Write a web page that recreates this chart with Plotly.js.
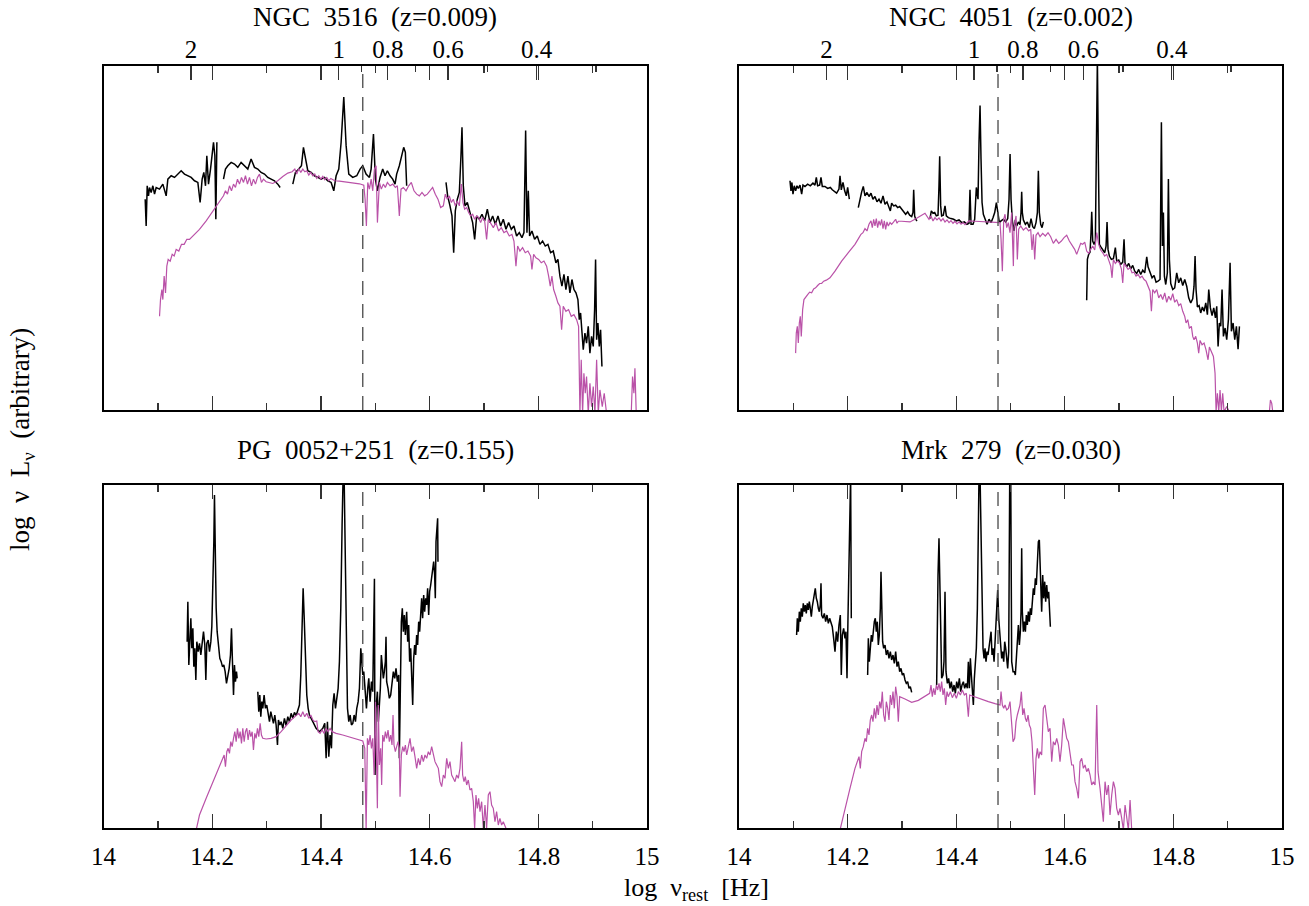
<!DOCTYPE html>
<html>
<head>
<meta charset="utf-8">
<script src="https://cdn.plot.ly/plotly-3.0.1.min.js"></script>
<style>html,body{margin:0;padding:0;background:#fff;}#plot{width:1309px;height:906px;}</style>
</head>
<body>
<div id="plot"></div>
<script>
// ---- Data: [log nu_rest, log nuLnu (arbitrary units)] ; null = gap between spectral segments
const ngc3516Obs = [[14.0767,63],[14.0785,55],[14.0804,67],[14.0828,64],[14.0847,66.5],[14.0877,65],[14.0908,67],[14.0939,64.5],[14.0969,66.5],[14.1031,66],[14.1092,67.5],[14.1153,64],[14.1184,69],[14.1245,70],[14.1307,69.5],[14.1368,70.5],[14.1429,71.5],[14.149,70.5],[14.1552,70],[14.1613,69.5],[14.1674,68.5],[14.1736,68],[14.1778,62],[14.1815,69],[14.1846,71],[14.1877,67],[14.1901,76],[14.1932,67.5],[14.1969,72],[14.2,77],[14.2024,80],[14.2049,76],[14.2067,57],[14.2086,80],null,
[14.2208,69],[14.2244,72],[14.2287,73],[14.2349,74],[14.241,73.5],[14.2471,72.5],[14.2532,74],[14.2594,73],[14.2655,72],[14.2716,75],[14.2778,72.5],[14.2839,72],[14.29,71],[14.2962,70.5],[14.3023,69.5],[14.3084,69],[14.3146,68.5],[14.3207,67.5],[14.325,66.5],null,
[14.3483,67.5],[14.3532,71],[14.3593,72],[14.3642,73],[14.3679,78.5],[14.3716,75],[14.3759,71.5],[14.382,71],[14.3881,70],[14.3943,69.5],[14.4004,69],[14.4065,69.5],[14.4127,68.5],[14.4188,68],[14.4237,65.5],[14.428,70],[14.4329,72],[14.4372,80],[14.4421,93.5],[14.4464,79],[14.4513,70.5],[14.4586,69.5],[14.466,70],[14.4721,72],[14.477,73],[14.4831,70.5],[14.4893,69.5],[14.4924,72],[14.4967,82.5],[14.5003,69],[14.5014,68],[14.5039,65.5],[14.5088,69.5],[14.5137,72],[14.518,70],[14.5223,71.5],[14.5272,70],[14.5321,69],[14.5364,67.5],[14.5394,70.5],[14.5443,73],[14.5486,76],[14.5523,78.5],[14.5554,77],[14.5578,67],null,
[14.6302,68],[14.6332,64],[14.6375,61],[14.6412,58],[14.6443,47],[14.6473,59.5],[14.651,63],[14.6547,65],[14.6577,76],[14.6596,84.5],[14.662,67],[14.6651,61],[14.6694,62],[14.6743,59],[14.6792,56],[14.6829,51],[14.6866,58],[14.6915,57],[14.6964,58.5],[14.7013,56.5],[14.7062,60],[14.7111,56],[14.716,58],[14.7209,55.5],[14.7258,58],[14.7307,55],[14.7356,57],[14.7405,54],[14.7454,56],[14.7503,54],[14.7552,55],[14.7601,52],[14.765,53],[14.7699,51.5],[14.7736,53],[14.7767,83.5],[14.7791,53],[14.7816,65.5],[14.784,52],[14.7883,53.5],[14.7932,51],[14.7981,52],[14.803,49.5],[14.8079,50.5],[14.8128,49],[14.8177,49.5],[14.8226,47],[14.8275,47.5],[14.8324,44],[14.8361,45],[14.8398,40],[14.8435,37],[14.8472,40.5],[14.8508,36],[14.8545,40],[14.8582,35],[14.8619,39],[14.8656,36],[14.8693,35],[14.8729,33],[14.8754,27],[14.8778,29],[14.8803,23],[14.8827,18],[14.8858,23],[14.8888,20],[14.8919,25],[14.895,17],[14.898,22],[14.9011,19],[14.9036,30],[14.9054,45],[14.9073,21],[14.9097,26],[14.9122,19],[14.9146,24],[14.9171,13]];

const ngc3516Gal = [[14.1031,28],[14.1049,33],[14.1074,36],[14.1092,33],[14.1116,40],[14.1141,35],[14.1165,43],[14.119,45],[14.1227,44.5],[14.1264,46.5],[14.13,46],[14.1337,48],[14.1386,47.5],[14.1435,49.5],[14.1484,49.5],[14.1533,51],[14.1582,51],[14.1644,52],[14.1766,54],[14.1889,56.5],[14.2012,59.5],[14.2134,62.5],[14.2208,64],[14.2244,65.5],[14.2281,64.5],[14.2318,67],[14.2355,65.5],[14.2392,67.5],[14.2428,66.5],[14.2465,69],[14.2502,67.5],[14.2539,69.5],[14.2576,68],[14.2612,70],[14.2649,67.5],[14.2686,69.5],[14.2723,67],[14.2759,69],[14.2796,67.5],[14.2833,69.5],[14.287,70.5],[14.2906,68],[14.2943,69],[14.2992,68.2],[14.3054,68],[14.3115,67.7],[14.3207,68.5],[14.3299,69.8],[14.3391,70.8],[14.3471,71.2],[14.352,72],[14.3556,70.5],[14.3593,72.2],[14.363,71],[14.3667,72],[14.3704,71.2],[14.374,71.5],[14.3777,70.2],[14.3814,71],[14.3851,70],[14.3887,70.5],[14.3924,69.2],[14.3961,70],[14.3998,69],[14.4035,69.8],[14.4071,68.8],[14.4108,69.5],[14.4145,68.5],[14.4182,69.2],[14.4218,68.8],[14.4255,68.5],[14.4341,68.4],[14.4464,68.2],[14.4586,67.9],[14.4709,67.6],[14.4789,67.2],[14.4813,63],[14.4837,55],[14.4862,68],[14.4893,66],[14.4924,69],[14.4954,65.5],[14.4985,72],[14.5016,73],[14.504,56],[14.5076,68],[14.5112,66],[14.5149,67.5],[14.5186,66.5],[14.5223,68],[14.5272,67],[14.5321,67.5],[14.537,66.5],[14.5407,67],[14.5443,58],[14.5474,66],[14.5517,66.5],[14.5566,65.5],[14.5615,67],[14.5664,68],[14.5713,65.5],[14.5762,64.5],[14.5811,64],[14.586,65],[14.5909,64],[14.5958,64.5],[14.6007,65.5],[14.6056,66.5],[14.6105,64.5],[14.6154,63],[14.6203,60.5],[14.6253,61],[14.6289,64.5],[14.6326,63],[14.6363,64],[14.64,62],[14.6436,63],[14.6473,61],[14.651,62.5],[14.6547,61],[14.6584,67.5],[14.6614,62],[14.6645,60],[14.6682,60.5],[14.6718,59],[14.6755,58],[14.6792,58.5],[14.6829,57],[14.6866,58],[14.6902,57.5],[14.6939,56],[14.6976,57.5],[14.7013,56.5],[14.7049,51],[14.708,57],[14.7123,56],[14.7172,54.5],[14.722,56],[14.727,53.5],[14.7319,54.5],[14.7368,53],[14.7417,53.5],[14.7466,52],[14.7515,52.5],[14.7552,50.5],[14.7589,43],[14.762,49],[14.7662,47.5],[14.7711,48.5],[14.776,47],[14.7809,47.5],[14.7859,46],[14.7883,42],[14.7914,46.5],[14.7957,45.5],[14.8006,45],[14.8055,44],[14.8104,44.5],[14.8153,43],[14.819,40],[14.822,37],[14.8251,40],[14.8282,36],[14.8324,34],[14.8361,32],[14.8398,31],[14.8429,24],[14.8459,31],[14.8508,29.5],[14.8557,30],[14.8606,28],[14.8656,28.5],[14.8705,27],[14.8741,25],[14.8766,-1],[14.879,15],[14.8815,-1],[14.8839,11],[14.8864,5],[14.8888,10],[14.8919,-1],[14.895,8],[14.898,1],[14.9011,7],[14.9042,-1],[14.9073,15],[14.9103,-1],[14.9134,6],[14.9177,1],[14.9213,5],[14.9256,-1],null,[14.971,-1],[14.9734,10],[14.9759,5],[14.9778,12.5],[14.9802,-1]];

const ngc4051Obs = [[14.0939,68.5],[14.0957,65.5],[14.0975,68],[14.0994,64.5],[14.1018,67],[14.1043,65.5],[14.1068,67],[14.1092,66.2],[14.1123,67.2],[14.1154,64.5],[14.1178,67.2],[14.1215,66.8],[14.1264,67.5],[14.1313,67],[14.1362,67.8],[14.1399,67.2],[14.1424,69.5],[14.1448,67],[14.1485,67.2],[14.151,69.5],[14.1534,66.8],[14.1583,66.8],[14.1632,66.2],[14.1682,66.5],[14.1718,65.8],[14.1755,65.2],[14.1798,64.8],[14.1841,66],[14.186,70],[14.1884,65.8],[14.1915,68],[14.1946,65.5],[14.1976,64],[14.2001,66.5],[14.2032,63],null,
[14.2197,60.5],[14.2228,63.5],[14.2259,65.2],[14.2289,66.8],[14.232,64],[14.2357,65],[14.2394,63.8],[14.2431,64.8],[14.2467,63],[14.2504,63.8],[14.2541,62.2],[14.2578,63],[14.2615,61.8],[14.2652,64],[14.2689,61.5],[14.2725,62.2],[14.2762,60.5],[14.2787,59.5],[14.2811,61.8],[14.2848,61],[14.2885,61.2],[14.2922,60.5],[14.2959,60.8],[14.2996,60],[14.3032,59.5],[14.3069,58.5],[14.3106,59.2],[14.3143,58.2],[14.318,57.8],[14.3204,59],[14.3217,65.8],[14.3235,58],[14.3253,57],[14.3278,56.5],null,
[14.3517,57.2],[14.3542,59.5],[14.3573,58.8],[14.3604,59],[14.3634,58],[14.3665,58.2],[14.3683,67],[14.3696,75.8],[14.3714,61],[14.3732,58],[14.3763,58.2],[14.3794,61],[14.3818,58],[14.3855,57.5],[14.3904,57.2],[14.3953,57],[14.4002,56.5],[14.4052,56.8],[14.4101,56],[14.415,56.2],[14.4199,55.5],[14.4236,55.8],[14.4254,65.8],[14.4273,55.5],[14.431,55.5],[14.434,57],[14.4371,66.5],[14.4402,63],[14.442,80],[14.4439,91],[14.4457,75],[14.4476,62],[14.45,58.5],[14.4531,57],[14.4568,55.5],[14.4605,57],[14.4642,56],[14.4679,57.5],[14.4709,59],[14.474,62],[14.4765,59],[14.4795,56],[14.4826,56.5],[14.4869,57],[14.4912,56.2],[14.4949,57.2],[14.4973,63],[14.4992,76.5],[14.501,63],[14.5034,56.5],[14.5065,53.5],[14.5089,56.8],[14.5114,55],[14.5145,56.2],[14.5175,55.4],[14.5194,59],[14.5206,65.2],[14.5218,59],[14.5237,56.8],[14.5274,55.5],[14.531,56.2],[14.5347,54.5],[14.5378,57.2],[14.5409,54.8],[14.5439,54.2],[14.547,56],[14.5495,59],[14.5513,71.5],[14.5531,59],[14.5556,55.5],[14.5581,54.5],[14.5605,56.2],null,
[14.6403,32.8],[14.6416,45],[14.644,46.5],[14.6465,47.2],[14.6483,53],[14.6496,59.2],[14.6514,50.5],[14.6539,49.5],[14.6563,50.5],[14.6581,89],[14.66,105],[14.6618,75],[14.6637,49.5],[14.6661,48.8],[14.6698,48],[14.6735,47],[14.676,49],[14.6778,56.2],[14.6796,48],[14.6821,46],[14.6858,45],[14.6895,45.2],[14.6931,48.5],[14.6956,44.5],[14.6993,44.8],[14.703,43.5],[14.7067,44.2],[14.7091,51],[14.7109,43.8],[14.714,42.8],[14.7177,43.8],[14.7214,42.2],[14.7251,43.2],[14.7288,41.5],[14.7324,40.8],[14.7361,42],[14.7398,40.5],[14.7435,41.8],[14.7472,41],[14.7509,45.8],[14.7533,42.8],[14.757,41],[14.7607,39.5],[14.7644,40.2],[14.7681,38.2],[14.7717,38.5],[14.7754,39],[14.7779,86],[14.7797,49],[14.7816,59],[14.7834,40],[14.7859,37.5],[14.7889,41],[14.7908,69],[14.7926,45],[14.7951,37.8],[14.7988,36],[14.8024,36.5],[14.8061,41],[14.8098,38],[14.8135,39.5],[14.8172,37.2],[14.8209,39],[14.8245,37],[14.8282,33.5],[14.8319,32],[14.8356,33.2],[14.838,37],[14.8399,46],[14.8417,36],[14.8442,30.8],[14.8473,31.2],[14.8503,29],[14.8534,30.8],[14.8565,29.5],[14.8596,32],[14.8626,28.5],[14.8651,36],[14.8681,30.5],[14.8712,28.2],[14.8743,30.5],[14.8774,27.5],[14.8798,31],[14.8823,19],[14.8847,26],[14.8872,25],[14.8896,36],[14.8921,22],[14.8952,24.5],[14.8982,21],[14.9013,27],[14.9044,44],[14.9068,23.5],[14.9099,26],[14.913,21],[14.916,25],[14.9191,18.2],[14.9216,25]];

const ngc4051Gal = [[14.1043,17],[14.1055,23],[14.1074,25],[14.1092,20],[14.1111,26],[14.1129,28],[14.1147,22],[14.1172,30],[14.1196,33],[14.1227,33.8],[14.1264,34.5],[14.1301,35.2],[14.1338,35],[14.1375,36.2],[14.1411,36.5],[14.1448,37.2],[14.1485,37.8],[14.1522,37.8],[14.1559,38.5],[14.1608,38.8],[14.1675,39.5],[14.1768,41.5],[14.189,44.5],[14.2013,47],[14.2136,49.5],[14.221,51.5],[14.2246,52.5],[14.2283,53],[14.232,54.2],[14.2357,53.5],[14.2394,55.5],[14.2431,56.5],[14.2455,54.5],[14.248,57],[14.2504,55],[14.2529,57.2],[14.2553,54.5],[14.2578,56.5],[14.2603,55.2],[14.2627,57],[14.2652,54.2],[14.2676,56.5],[14.2701,54],[14.2725,56.2],[14.275,55],[14.2781,56],[14.2811,55.5],[14.2848,56.2],[14.2885,57],[14.291,55.8],[14.2934,56.4],[14.2996,56.4],[14.3069,56.2],[14.3149,56.2],[14.3241,57],[14.3333,58],[14.3425,58.8],[14.3499,57],[14.3536,58],[14.3573,56.5],[14.361,57.5],[14.3646,56.8],[14.3683,57.4],[14.372,56.5],[14.3757,57.2],[14.3794,56.2],[14.3831,56.8],[14.3868,56],[14.3904,56.6],[14.3941,55.8],[14.3978,56.4],[14.4015,55.6],[14.4052,56.2],[14.4089,55.5],[14.4125,56],[14.4162,55.4],[14.4199,56],[14.4236,56.5],[14.4346,56.4],[14.4469,56.3],[14.4592,56.2],[14.4715,56.1],[14.4807,56],[14.4826,51],[14.485,41.5],[14.4875,57],[14.4899,58.5],[14.493,54.5],[14.496,56],[14.4991,53],[14.5022,59],[14.5053,43],[14.5065,54.5],[14.5102,58],[14.5126,45],[14.5151,54],[14.5188,55],[14.5237,53.8],[14.5286,54.5],[14.5335,53.5],[14.5372,54],[14.5396,47.8],[14.5421,52.5],[14.5446,45],[14.547,52.2],[14.5507,53],[14.5544,51.8],[14.5593,52.8],[14.5642,52],[14.5691,53],[14.574,51.8],[14.5789,49.8],[14.5839,51],[14.5888,49.8],[14.5937,50.5],[14.5986,51.5],[14.6035,52.2],[14.6084,50.5],[14.6133,49.2],[14.6182,48],[14.6219,46.5],[14.6256,48],[14.6293,49.8],[14.633,49.5],[14.6367,50.2],[14.6403,47.5],[14.644,46.8],[14.6477,48],[14.6514,49],[14.6551,47.8],[14.6588,53],[14.6624,49.5],[14.6661,47.8],[14.6698,47],[14.6735,46],[14.6772,46.5],[14.6809,44.5],[14.6846,43],[14.687,39.5],[14.6895,45],[14.6931,43.8],[14.6968,44.5],[14.7005,44],[14.7042,42.2],[14.7067,38],[14.7091,43.8],[14.7128,43],[14.7165,42],[14.7202,42.5],[14.7238,41],[14.7275,41.2],[14.7312,40],[14.7349,40.5],[14.7386,39.5],[14.7423,40],[14.746,39],[14.7496,38.5],[14.7533,37.2],[14.757,35.5],[14.7595,29.5],[14.7619,36],[14.7656,35],[14.7693,36],[14.773,33.5],[14.7767,34.5],[14.7803,33],[14.784,35],[14.7877,32.2],[14.7914,34],[14.7951,32.8],[14.7988,34.8],[14.8024,32.2],[14.8061,33],[14.8098,31.2],[14.8135,31.8],[14.8172,29.5],[14.8209,28],[14.8233,26],[14.8264,27],[14.8294,24.5],[14.8331,25],[14.8356,22],[14.838,21],[14.8411,22],[14.8442,20],[14.8466,17],[14.8491,20.8],[14.8528,19.5],[14.8565,20],[14.8601,18],[14.8638,15],[14.8663,18.8],[14.87,17.5],[14.8737,16],[14.8767,11],[14.8786,-0.5],[14.881,5],[14.8835,-0.5],[14.8859,6],[14.8884,-0.5],[14.8908,5],[14.8933,-0.5],[14.8982,1],[14.9031,-0.5],null,[14.9768,-0.5],[14.9787,3],[14.9811,2],[14.9829,-0.5]];

const pg0052Obs = [[14.1539,55.9],[14.1552,67.9],[14.157,48.9],[14.1588,58.9],[14.1607,62.9],[14.1625,53.9],[14.1644,59.9],[14.1662,48.4],[14.168,53.9],[14.1699,44.4],[14.1717,55.9],[14.1742,52.9],[14.1766,55.4],[14.1791,51.9],[14.1815,54.9],[14.184,58.9],[14.1864,54.9],[14.1883,44.4],[14.1901,55.4],[14.1926,56.4],[14.195,52.9],[14.1975,55.9],[14.1993,60.4],[14.2011,69.9],[14.203,85.9],[14.2042,99.9],[14.2054,85.9],[14.2073,65.9],[14.2091,58.9],[14.2116,53.9],[14.214,50.9],[14.2165,49.9],[14.2189,48.4],[14.2214,48.9],[14.2238,46.9],[14.2263,43.4],[14.2287,45.9],[14.2312,47.9],[14.2336,51.9],[14.2355,59.9],[14.2373,49.9],[14.2392,39.9],[14.241,48.9],[14.2428,43.9],[14.2447,46.9],[14.2459,44.9],null,
[14.2839,40.9],[14.2857,34.9],[14.2876,39.9],[14.2894,33.4],[14.2913,37.9],[14.2931,35.9],[14.2955,39.9],[14.298,35.9],[14.3004,36.9],[14.3029,34.4],[14.3054,31.9],[14.3078,34.9],[14.3103,32.4],[14.3127,31.4],[14.3152,33.9],[14.3176,30.9],[14.3201,24.9],[14.3219,32.4],[14.3244,30.9],[14.3268,31.9],[14.3299,29.9],[14.3329,32.9],[14.336,30.7],[14.3391,33.4],[14.3421,31.9],[14.3452,34.4],[14.3483,32.9],[14.3513,34.7],[14.3544,33.7],[14.3575,35.4],[14.3605,36.9],[14.363,45.9],[14.3654,63.9],[14.3673,71.9],[14.3691,63.9],[14.3716,49.9],[14.374,39.9],[14.3765,35.9],[14.3789,33.9],[14.3851,31.9],[14.3912,29.9],[14.3973,28.9],[14.4035,29.9],[14.4071,31.4],[14.4096,20.9],[14.412,31.9],[14.4145,21.4],[14.4169,27.9],[14.4194,23.9],[14.4219,36.9],[14.4243,40.4],[14.4268,35.9],[14.4292,39.9],[14.4317,41.9],[14.4341,49.9],[14.4366,65.9],[14.439,90.9],[14.4409,106],[14.4427,106],[14.4446,80.9],[14.4464,50.9],[14.4489,35.9],[14.4513,31.9],[14.4538,33.9],[14.4562,30.9],[14.4587,31.4],[14.4611,33.9],[14.4636,31.9],[14.466,35.9],[14.4685,37.9],[14.4709,41.9],[14.4734,53.9],[14.4752,49.9],[14.4771,45.9],[14.4789,46.9],[14.4813,40.9],[14.4838,35.9],[14.4862,41.9],[14.4881,44.9],[14.4905,37.9],[14.493,43.9],[14.4954,40.9],[14.4973,57.9],[14.4985,74.8],[14.4996,15.9],[14.5014,35.9],[14.5039,40.9],[14.5057,31.9],[14.5076,36.9],[14.5094,41.9],[14.5112,51.9],[14.5131,47.9],[14.5149,44.9],[14.5167,46.9],[14.5186,49.9],[14.5198,57.4],[14.521,43.9],[14.5235,41.9],[14.5259,38.9],[14.5284,39.9],[14.5308,43.9],[14.5333,46.9],[14.5358,44.9],[14.5382,47.9],[14.5407,43.9],[14.5431,45.9],[14.5443,20.9],[14.5462,48.9],[14.548,61.9],[14.5498,65.9],[14.5517,58.9],[14.5535,63.9],[14.5554,57.9],[14.5578,64.9],[14.5597,55.9],[14.5615,60.9],[14.5633,49.9],[14.5652,53.9],[14.567,46.9],[14.5689,36.9],[14.5707,50.9],[14.5725,54.9],[14.5744,51.9],[14.5762,57.9],[14.578,54.9],[14.5799,61.9],[14.5817,58.9],[14.5836,63.9],[14.5854,68.9],[14.5872,62.9],[14.5891,69.9],[14.5909,64.9],[14.5928,68.9],[14.5946,66.9],[14.5964,71.9],[14.5983,63.9],[14.6001,70.9],[14.602,72.9],[14.6038,75.9],[14.6056,76.9],[14.6075,79.9],[14.6093,75.9],[14.6105,68.9],[14.6118,85.9],[14.6136,91.9],[14.6148,92.9],[14.6154,79.9]];

const pg0052Gal = [[14.1705,-0.6],[14.1766,3.9],[14.1889,8.9],[14.2011,13.9],[14.2134,18.9],[14.222,21.9],[14.2244,18.4],[14.2269,22.9],[14.2293,23.9],[14.2318,22.4],[14.2342,25.9],[14.2367,24.4],[14.2392,26.9],[14.2416,28.9],[14.2441,25.9],[14.2465,29.9],[14.249,26.9],[14.2514,28.9],[14.2539,25.4],[14.2563,29.9],[14.2588,25.9],[14.2612,28.9],[14.2637,29.9],[14.2661,26.4],[14.2686,29.4],[14.271,27.4],[14.2735,28.9],[14.2759,23.4],[14.2784,28.4],[14.2808,26.9],[14.2833,29.9],[14.2857,27.4],[14.2882,31.4],[14.2906,27.9],[14.2931,26.9],[14.2992,26.7],[14.3084,26.9],[14.3176,27.4],[14.3268,28.9],[14.336,30.7],[14.3452,32.4],[14.3544,33.7],[14.3593,34.4],[14.363,33.4],[14.3667,34.9],[14.3703,33.4],[14.374,34.4],[14.3777,32.9],[14.3814,33.9],[14.3851,32.4],[14.3887,31.9],[14.3924,32.1],[14.3948,28.9],[14.3985,28.4],[14.4022,29.4],[14.4059,28.4],[14.4096,29.9],[14.4132,28.9],[14.4169,29.9],[14.4206,28.9],[14.428,28.4],[14.4402,27.9],[14.4525,27.3],[14.4648,26.7],[14.4771,26.1],[14.4807,23.9],[14.4832,-0.6],[14.4856,26.9],[14.4881,24.9],[14.4905,27.9],[14.493,23.9],[14.4954,26.9],[14.4979,15.9],[14.5004,37.9],[14.5039,5.9],[14.5057,36.9],[14.5076,18.9],[14.51,23.9],[14.5118,12.9],[14.5137,27.9],[14.5161,25.9],[14.5186,28.9],[14.521,26.9],[14.5235,29.4],[14.5259,25.9],[14.5284,27.9],[14.5308,24.9],[14.5327,33.9],[14.5345,24.9],[14.537,22.9],[14.5394,24.9],[14.5419,25.9],[14.5443,23.9],[14.5456,9.4],[14.548,21.9],[14.5505,24.4],[14.5529,22.9],[14.5554,24.9],[14.5578,21.9],[14.5609,24.4],[14.564,26.9],[14.567,22.9],[14.5701,24.4],[14.5731,21.4],[14.5762,17.9],[14.5793,20.9],[14.5823,18.9],[14.5854,21.9],[14.5885,19.9],[14.5915,21.9],[14.5946,20.9],[14.5977,22.9],[14.6007,21.9],[14.6038,24.4],[14.6069,21.9],[14.6099,19.9],[14.613,18.9],[14.6161,17.9],[14.6191,13.9],[14.6222,12.4],[14.6253,15.9],[14.6283,14.9],[14.6314,20.9],[14.6345,17.9],[14.6375,19.9],[14.6406,15.9],[14.6436,14.9],[14.6467,13.9],[14.6498,15.9],[14.6528,14.9],[14.6559,17.9],[14.659,25.9],[14.6608,15.9],[14.6633,13.9],[14.6657,15.4],[14.6682,12.9],[14.6712,14.4],[14.6743,11.4],[14.6774,11.9],[14.6804,7.9],[14.6829,-0.1],[14.6853,9.9],[14.6878,5.9],[14.6902,8.9],[14.6927,4.9],[14.6958,7.9],[14.6988,-0.1],[14.7019,6.9],[14.7049,-0.1],[14.708,9.9],[14.7111,10.9],[14.7141,6.9],[14.7172,5.9],[14.7203,1.9],[14.7233,4.9],[14.7264,0.9],[14.7294,2.9],[14.7325,0.9],[14.7356,1.9],[14.7405,-0.1]];

const mrk279Obs = [[14.1061,57.9],[14.1074,62.9],[14.1092,58.9],[14.1111,64.9],[14.1129,61.9],[14.1147,65.9],[14.1166,63.4],[14.1184,67.4],[14.1203,64.9],[14.1221,66.9],[14.1239,64.4],[14.1258,67.4],[14.1276,65.4],[14.1295,67.9],[14.1313,65.9],[14.1332,63.4],[14.135,66.4],[14.1368,67.9],[14.1387,69.9],[14.1405,71.9],[14.1424,68.9],[14.1442,67.9],[14.1461,65.9],[14.1479,64.9],[14.1497,66.9],[14.151,73.4],[14.1522,63.9],[14.1546,62.9],[14.1571,64.4],[14.1596,61.9],[14.162,63.9],[14.1645,61.4],[14.1669,62.9],[14.1694,61.9],[14.1718,60.4],[14.1743,56.9],[14.1768,52.9],[14.1792,58.9],[14.1817,55.9],[14.1841,60.9],[14.1866,63.9],[14.1884,45.9],[14.1903,57.9],[14.1927,59.9],[14.1952,56.9],[14.197,58.9],[14.1989,44.9],[14.2007,62.9],[14.2025,85.9],[14.2044,106],[14.2056,106],[14.2068,62.9],null,
[14.2369,45.9],[14.2382,56.9],[14.24,49.9],[14.2418,53.9],[14.2437,57.9],[14.2455,55.9],[14.2474,59.9],[14.2492,61.9],[14.251,62.9],[14.2529,58.9],[14.2547,61.9],[14.2566,54.9],[14.2584,57.9],[14.2603,65.9],[14.2615,76.9],[14.2627,63.9],[14.2645,55.9],[14.2664,53.9],[14.2689,54.9],[14.2713,51.9],[14.2738,53.4],[14.2762,50.9],[14.2787,52.9],[14.2811,50.4],[14.2836,51.9],[14.286,49.4],[14.2885,52.9],[14.291,48.4],[14.2934,49.9],[14.2959,46.9],[14.2983,47.9],[14.3008,45.9],[14.3032,46.4],[14.3057,44.4],[14.3081,43.4],[14.3106,43.9],[14.3131,41.9],[14.3155,42.4],[14.318,40.7],null,
[14.364,42.9],[14.3652,60.9],[14.3665,75.9],[14.3683,86.9],[14.3695,79.9],[14.3714,60.9],[14.3732,44.9],[14.3757,45.9],[14.3775,49.9],[14.3794,70.9],[14.3812,46.9],[14.3837,43.4],[14.3861,44.9],[14.3886,41.9],[14.391,43.9],[14.3935,40.9],[14.396,42.9],[14.3984,40.4],[14.4009,43.9],[14.4033,41.9],[14.4058,44.9],[14.4083,40.9],[14.4107,42.9],[14.4132,43.9],[14.4156,41.9],[14.4181,43.4],[14.4205,41.9],[14.4224,49.9],[14.4242,41.9],[14.4261,50.9],[14.4279,45.9],[14.4297,39.9],[14.4316,36.9],[14.4334,44.9],[14.4353,49.9],[14.4371,53.9],[14.439,65.9],[14.4408,90.9],[14.442,106],[14.4439,106],[14.4457,85.9],[14.4476,60.9],[14.4494,53.9],[14.4513,50.9],[14.4531,53.9],[14.4549,49.9],[14.4568,52.9],[14.4586,51.9],[14.4605,54.9],[14.4623,56.9],[14.4642,58.9],[14.466,51.9],[14.4679,53.9],[14.4697,49.9],[14.4715,55.9],[14.4734,61.9],[14.4752,67.9],[14.4764,71.4],[14.4783,62.9],[14.4801,56.9],[14.4819,54.9],[14.4838,50.9],[14.4856,52.9],[14.4875,49.9],[14.4893,55.9],[14.4912,53.9],[14.493,49.9],[14.4948,47.9],[14.4967,52.9],[14.4986,106],[14.5004,106],[14.5022,49.9],[14.5047,46.9],[14.5071,46.9],[14.5089,45.9],[14.5108,51.9],[14.5126,55.9],[14.5145,60.9],[14.5163,54.9],[14.5181,58.9],[14.5194,64.9],[14.5206,83.9],[14.5218,64.9],[14.5237,58.9],[14.5255,61.9],[14.5274,58.9],[14.5292,63.9],[14.531,60.9],[14.5329,64.9],[14.5347,61.9],[14.5366,65.9],[14.5384,63.9],[14.5403,67.9],[14.5421,71.9],[14.5439,69.9],[14.5458,74.9],[14.5476,72.9],[14.5495,80.9],[14.5513,85.9],[14.5531,86.4],[14.5544,79.9],[14.5562,71.9],[14.5574,64.9],[14.5593,75.9],[14.5611,68.9],[14.563,73.9],[14.5648,67.9],[14.5667,72.9],[14.5685,68.9],[14.5703,70.9],[14.5722,63.9],[14.5734,60.4]];

const mrk279Gal = [[14.186,-0.6],[14.1952,5.9],[14.2044,11.9],[14.2136,17.9],[14.221,21.4],[14.2234,17.9],[14.2259,22.9],[14.2289,24.4],[14.232,26.9],[14.2345,25.9],[14.2369,29.9],[14.2394,27.9],[14.2418,32.4],[14.2443,33.9],[14.2467,31.9],[14.2492,35.9],[14.2517,32.9],[14.2541,36.9],[14.2566,33.9],[14.259,37.9],[14.2615,35.9],[14.2639,40.9],[14.2664,33.9],[14.2689,31.9],[14.2713,37.9],[14.2738,35.9],[14.2762,32.4],[14.2787,39.9],[14.2811,36.9],[14.2836,40.9],[14.286,35.9],[14.2885,42.4],[14.291,39.4],[14.2934,31.9],[14.2959,39.4],[14.3057,38.7],[14.318,37.7],[14.3303,38.3],[14.3425,39.4],[14.3511,40.4],[14.3536,42.9],[14.356,39.4],[14.3585,41.9],[14.361,39.9],[14.3634,42.9],[14.3659,41.4],[14.3683,43.4],[14.3708,40.9],[14.3732,43.9],[14.3757,39.9],[14.3782,41.9],[14.3806,36.9],[14.3831,40.9],[14.3855,39.4],[14.3892,40.9],[14.3929,39.1],[14.3966,40.4],[14.4003,38.9],[14.404,40.9],[14.4076,39.9],[14.4113,41.4],[14.415,39.9],[14.4187,40.4],[14.4224,33.4],[14.4248,39.9],[14.4346,39.3],[14.4469,38.7],[14.4592,37.9],[14.4715,37.3],[14.4807,36.9],[14.4826,40.9],[14.485,36.9],[14.4875,35.9],[14.4899,36.9],[14.493,35.4],[14.496,35.9],[14.4991,37.9],[14.5022,29.9],[14.5047,25.9],[14.5077,26.9],[14.5102,31.9],[14.5126,33.9],[14.5151,35.9],[14.5175,36.9],[14.52,40.9],[14.5225,33.9],[14.5249,35.9],[14.5274,32.9],[14.5298,31.9],[14.5323,33.9],[14.5347,30.9],[14.5372,29.9],[14.5396,25.9],[14.5421,16.9],[14.5446,9.9],[14.547,20.9],[14.5495,23.9],[14.5519,20.9],[14.5544,22.9],[14.5574,21.9],[14.5605,35.9],[14.5636,36.9],[14.5667,32.9],[14.5697,28.9],[14.5728,29.9],[14.5759,19.9],[14.5789,25.9],[14.582,24.9],[14.5851,26.9],[14.5881,24.9],[14.5912,19.9],[14.5943,24.9],[14.5974,32.9],[14.6004,29.9],[14.6035,26.9],[14.6066,25.9],[14.6096,22.9],[14.6127,18.9],[14.6158,18.9],[14.6188,13.9],[14.6219,11.9],[14.625,8.9],[14.6281,19.9],[14.6311,20.9],[14.6342,17.9],[14.6373,18.9],[14.6403,16.9],[14.6434,17.9],[14.6465,15.9],[14.6496,12.9],[14.6526,13.9],[14.6557,12.9],[14.6588,36.9],[14.6612,16.9],[14.6649,11.9],[14.668,6.9],[14.671,1.9],[14.6741,13.9],[14.6772,9.9],[14.6803,12.9],[14.6833,3.9],[14.6864,9.9],[14.6895,13.9],[14.6925,11.9],[14.6956,5.9],[14.6987,3.9],[14.7017,5.9],[14.7048,2.9],[14.7079,-0.6],[14.711,6.9],[14.714,3.9],[14.7171,-0.6],[14.7202,8.4],[14.7232,-0.6]];

// Panel titles
const panelTitles = ["NGC\u00a0 3516\u00a0 (z=0.009)", "NGC\u00a0 4051\u00a0 (z=0.002)", "PG\u00a0 0052+251\u00a0 (z=0.155)", "Mrk\u00a0 279\u00a0 (z=0.030)"];
// Bottom axis ticks (log nu)
const nuTickVals = [14, 14.2, 14.4, 14.6, 14.8, 15];
const nuTickText = ["14", "14.2", "14.4", "14.6", "14.8", "15"];
// Top axis wavelength ticks (micron), positions in log nu as drawn in the original
const lamTickVals = [14.161, 14.433, 14.523, 14.634, 14.797];
const lamTickText = ["2", "1", "0.8", "0.6", "0.4"];
const lamMinorVals = [14.475, 14.574, 14.707, 14.906];
// 1 micron reference line (log nu)
const oneMicronNu = 14.477;

// ---- Build
function split(pairs) {
  return { x: pairs.map(p => p ? p[0] : null), y: pairs.map(p => p ? p[1] : null) };
}
const BLACK = '#000000';
const MAG = 'rgb(186,82,168)';
const FONT = 'Liberation Serif, Times New Roman, serif';

const panels = [
  { obs: ngc3516Obs, gal: ngc3516Gal, xa: 'x', ya: 'y' },
  { obs: ngc4051Obs, gal: ngc4051Gal, xa: 'x2', ya: 'y2' },
  { obs: pg0052Obs, gal: pg0052Gal, xa: 'x3', ya: 'y3' },
  { obs: mrk279Obs, gal: mrk279Gal, xa: 'x4', ya: 'y4' }
];
const traces = [];
panels.forEach(p => {
  const o = split(p.obs), g = split(p.gal);
  traces.push({ type: 'scatter', mode: 'lines', x: o.x, y: o.y, xaxis: p.xa, yaxis: p.ya,
    line: { color: BLACK, width: 1.5 }, connectgaps: false, hoverinfo: 'skip', showlegend: false });
  traces.push({ type: 'scatter', mode: 'lines', x: g.x, y: g.y, xaxis: p.xa, yaxis: p.ya,
    line: { color: MAG, width: 1.2 }, connectgaps: false, hoverinfo: 'skip', showlegend: false });
});

const W = 1309, H = 906;
const xL = [103.5 / W, 647 / W], xR = [739 / W, 1282 / W];
const yT = [(H - 410) / H, (H - 66) / H], yB = [(H - 828) / H, (H - 485) / H];

function xaxis(domain, anchor, labels) {
  return {
    domain: domain, anchor: anchor, range: [14, 15], autorange: false,
    tickmode: 'array', tickvals: nuTickVals, ticktext: nuTickText,
    ticks: 'inside', ticklen: 14, tickwidth: 1.3, tickcolor: '#333',
    minor: { dtick: 0.1, tick0: 14, ticks: 'inside', ticklen: 7, tickwidth: 1.3, tickcolor: '#333' },
    showline: true, linewidth: 2, linecolor: '#000', mirror: 'ticks',
    showgrid: false, zeroline: false, showticklabels: labels,
    tickfont: { family: FONT, size: 25, color: '#000' }, ticklabelstandoff: 5
  };
}
function yaxis(domain, anchor, top) {
  return {
    domain: domain, anchor: anchor, range: [0, top], autorange: false,
    showline: true, linewidth: 2, linecolor: '#000', mirror: true,
    ticks: '', showticklabels: false, showgrid: false, zeroline: false
  };
}
function topaxis(over, anchor) {
  return {
    overlaying: over, anchor: anchor, side: 'top', range: [14, 15], autorange: false,
    tickmode: 'array', tickvals: lamTickVals, ticktext: lamTickText,
    ticks: 'inside', ticklen: 14, tickwidth: 1.3, tickcolor: '#333',
    minor: { tickmode: 'array', tickvals: lamMinorVals, ticks: 'inside', ticklen: 6, tickwidth: 1.3, tickcolor: '#333' },
    showline: false, showgrid: false, zeroline: false,
    tickfont: { family: FONT, size: 25, color: '#000' }, ticklabelstandoff: 2
  };
}

const shapes = [['x', 'y'], ['x2', 'y2'], ['x3', 'y3'], ['x4', 'y4']].map(a => ({
  type: 'line', xref: a[0], yref: a[1] + ' domain', x0: oneMicronNu, x1: oneMicronNu, y0: 0, y1: 1,
  line: { color: '#555', width: 1.4, dash: '14px,9px' }, layer: 'above'
}));

const titlePos = [
  [(xL[0] + xL[1]) / 2, 1 - 17 / H], [(xR[0] + xR[1]) / 2, 1 - 17 / H],
  [(xL[0] + xL[1]) / 2, 1 - 450 / H], [(xR[0] + xR[1]) / 2, 1 - 450 / H]
];
const annotations = panelTitles.map((t, i) => ({
  text: t, xref: 'paper', yref: 'paper', x: titlePos[i][0], y: titlePos[i][1],
  xanchor: 'center', yanchor: 'middle', showarrow: false,
  font: { family: FONT, size: 27, color: '#000' }
}));
annotations.push({
  text: 'log\u00a0 ν<sub>rest</sub>\u00a0 [Hz]', xref: 'paper', yref: 'paper', x: 697 / W, y: 1 - 889 / H,
  xanchor: 'center', yanchor: 'middle', showarrow: false, font: { family: FONT, size: 26, color: '#000' }
});
annotations.push({
  text: 'log\u00a0 ν\u00a0 L<sub>ν</sub>\u00a0 (arbitrary)', xref: 'paper', yref: 'paper', x: 22 / W, y: 1 - 440 / H,
  xanchor: 'center', yanchor: 'middle', textangle: -90, showarrow: false, font: { family: FONT, size: 27, color: '#000' }
});

const layout = {
  width: W, height: H, margin: { l: 0, r: 0, t: 0, b: 0 },
  paper_bgcolor: '#fff', plot_bgcolor: '#fff', showlegend: false,
  font: { family: FONT, color: '#000' },
  xaxis: xaxis(xL, 'y', false), yaxis: yaxis(yT, 'x', 102.8),
  xaxis2: xaxis(xR, 'y2', false), yaxis2: yaxis(yT, 'x2', 102.8),
  xaxis3: xaxis(xL, 'y3', true), yaxis3: yaxis(yB, 'x3', 102.9),
  xaxis4: xaxis(xR, 'y4', true), yaxis4: yaxis(yB, 'x4', 102.9),
  xaxis5: topaxis('x', 'y'), xaxis6: topaxis('x2', 'y2'),
  shapes: shapes, annotations: annotations
};
// empty traces so the top overlay axes get drawn
traces.push({ type: 'scatter', mode: 'lines', x: [null], y: [null], xaxis: 'x5', yaxis: 'y', hoverinfo: 'skip', showlegend: false });
traces.push({ type: 'scatter', mode: 'lines', x: [null], y: [null], xaxis: 'x6', yaxis: 'y2', hoverinfo: 'skip', showlegend: false });

Plotly.newPlot('plot', traces, layout, { staticPlot: true, displayModeBar: false });
</script>
</body>
</html>
